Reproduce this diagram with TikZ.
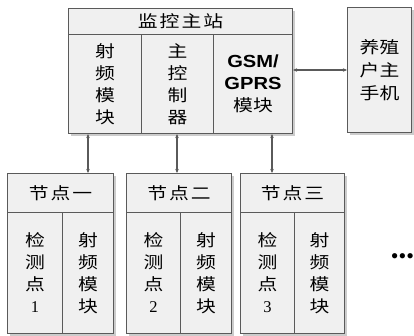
\documentclass[tikz,border=0pt]{standalone}
\usepackage{fontspec}
\setmainfont{Liberation Serif}
\newfontfamily\cjk[FakeStretch=1.2]{Noto Sans CJK SC}
\newfontfamily\lsans[FakeStretch=1.15]{Liberation Sans}
\usetikzlibrary{shadows,arrows.meta}
\definecolor{bd}{HTML}{5A5A5A}
\definecolor{cellfill}{HTML}{F0F0F0}
\tikzset{
  cell/.style={draw=bd, line width=1pt, fill=cellfill, inner sep=0pt,
    anchor=north west, align=center,
    font=\cjk\fontsize{16.5}{22}\selectfont,
    drop shadow={shadow xshift=2.5pt, shadow yshift=-2.5pt, fill=gray!40, opacity=1}},
  link/.style={draw=bd, line width=1.2pt,
    {Stealth[length=4pt,width=3.5pt]}-{Stealth[length=4pt,width=3.5pt]}},
}
\begin{document}
\begin{tikzpicture}[x=1pt,y=-1pt]
\useasboundingbox (0,0) rectangle (414,336);
% main station
\node[cell, minimum width=224pt, minimum height=26pt] (mt) at (68,8)
  {监\kern2pt 控\kern2pt 主\kern2pt 站};
\node[cell, minimum width=73pt, minimum height=99pt] (c1) at (68,34)
  {射\\频\\模\\块};
\node[cell, minimum width=72pt, minimum height=99pt] (c2) at (141,34)
  {主\\控\\制\\器};
\node[cell, minimum width=79pt, minimum height=99pt] (c3) at (213,34)
  {{\lsans\bfseries\fontsize{17.5}{22}\selectfont GSM/}\\{\lsans\bfseries\fontsize{17.5}{22}\selectfont GPRS}\\模块};
% phone
\node[cell, minimum width=64pt, minimum height=125pt, font=\cjk\fontsize{16.5}{23}\selectfont] (ph) at (347,7)
  {养殖\\户主\\手机};
% node 1
\node[cell, minimum width=106pt, minimum height=39pt] (n1t) at (7,173)
  {节\kern2pt 点\kern2pt 一};
\node[cell, minimum width=55pt, minimum height=121pt] (n1a) at (7,212)
  {检\\测\\点\\{\rmfamily 1}};
\node[cell, minimum width=51pt, minimum height=121pt] (n1b) at (62,212)
  {射\\频\\模\\块};
% node 2
\node[cell, minimum width=105pt, minimum height=39pt] (n2t) at (126,173)
  {节\kern2pt 点\kern2pt 二};
\node[cell, minimum width=54pt, minimum height=121pt] (n2a) at (126,212)
  {检\\测\\点\\{\rmfamily 2}};
\node[cell, minimum width=51pt, minimum height=121pt] (n2b) at (180,212)
  {射\\频\\模\\块};
% node 3
\node[cell, minimum width=104pt, minimum height=39pt] (n3t) at (240,173)
  {节\kern2pt 点\kern2pt 三};
\node[cell, minimum width=54pt, minimum height=121pt] (n3a) at (240,212)
  {检\\测\\点\\{\rmfamily 3}};
\node[cell, minimum width=50pt, minimum height=121pt] (n3b) at (294,212)
  {射\\频\\模\\块};
% dots
\node[font=\fontsize{22}{22}\selectfont, inner sep=0pt] (dots) at (402.5,259) {•••};
% links
\draw[link] ([xshift=20pt]c1.south west) -- ([xshift=20pt]c1.south west |- n1t.north);
\draw[link] ([xshift=36pt]c2.south west) -- ([xshift=36pt]c2.south west |- n2t.north);
\draw[link] ([xshift=59pt]c3.south west) -- ([xshift=59pt]c3.south west |- n3t.north);
\draw[link] (ph.west -| c3.east) -- (ph.west);
\end{tikzpicture}
\end{document}
